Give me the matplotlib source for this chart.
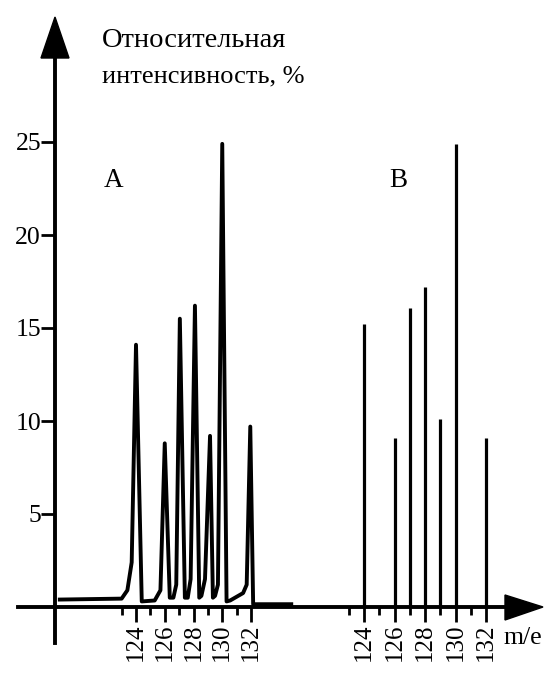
import matplotlib
matplotlib.use("Agg")
from matplotlib import pyplot as plt
from matplotlib.patches import Polygon
from matplotlib.ticker import FixedLocator


# spectre A (enregistrement continu) : sommets de la courbe (m/e, intensité %)
a_mz = [118.7, 123.0, 123.4, 123.7, 124.0, 124.4, 125.3, 125.7, 126.0,
        126.35, 126.6, 126.8, 127.05, 127.4, 127.6, 127.8, 128.1, 128.4,
        128.55, 128.8, 129.15, 129.35, 129.5, 129.7, 130.0, 130.3, 130.55,
        131.45, 131.7, 131.95, 132.15, 134.8]
a_int = [0.4, 0.45, 0.9, 2.4, 14.1, 0.3, 0.35, 0.9, 8.8,
         0.5, 0.5, 1.2, 15.5, 0.5, 0.5, 1.5, 16.2, 0.5,
         0.6, 1.5, 9.2, 0.5, 0.6, 1.2, 24.9, 0.3, 0.35,
         0.75, 1.2, 9.7, 0.15, 0.15]

# spectre B (raies)
b_mz = [124, 126, 127, 128, 129, 130, 132]
b_int = [15.2, 9.1, 16.1, 17.2, 10.1, 24.9, 9.1]

ticks_major = [124, 126, 128, 130, 132]
ticks_minor = [123, 125, 127, 129, 131]
y_ticks = [5, 10, 15, 20, 25]

W, H = 547, 673
Y0 = 607        # pixel (depuis le haut) de l'intensité 0
Y_PER = 18.6    # pixels par unité d'intensité
LW = 2.3
FONT = ['Liberation Serif', 'DejaVu Serif']

plt.rcParams['font.family'] = FONT


def fx(px):
    return px / W


def fy(py):
    return 1 - py / H


def ajouteAxes(fig, x124, x132):
    """Crée des axes transparents couvrant toute la figure, avec
        124 et 132 placés aux pixels x124 et x132.
    """
    scale = (x132 - x124) / 8
    left = 124 - x124 / scale
    ax = fig.add_axes([0, 0, 1, 1])
    ax.set_xlim(left, left + W / scale)
    ax.set_ylim(-(H - Y0) / Y_PER, Y0 / Y_PER)
    ax.patch.set_visible(False)
    for s in ['top', 'right', 'left']:
        ax.spines[s].set_visible(False)
    ax.spines['bottom'].set_position(('data', 0))
    ax.spines['bottom'].set_linewidth(LW + 0.5)
    ax.xaxis.set_major_locator(FixedLocator(ticks_major))
    ax.xaxis.set_minor_locator(FixedLocator(ticks_minor))
    ax.set_xticklabels([str(t) for t in ticks_major], rotation=90)
    ax.tick_params(axis='x', which='major', direction='out', length=11,
                   width=2.0, labelsize=18, pad=1)
    ax.tick_params(axis='x', which='minor', direction='out', length=6,
                   width=2.0)
    ax.set_yticks([])
    return ax, left, scale


fig = plt.figure(figsize=(W / 100, H / 100), dpi=100)

axA, leftA, scaleA = ajouteAxes(fig, 136, 251)
axB, leftB, scaleB = ajouteAxes(fig, 364, 486)

# axe vertical (sur les axes A)
axA.spines['left'].set_visible(True)
axA.spines['left'].set_position(('data', leftA + 55 / scaleA))
axA.spines['left'].set_linewidth(LW + 0.5)
axA.spines['left'].set_bounds((Y0 - 643) / Y_PER, (Y0 - 50) / Y_PER)
axA.set_yticks(y_ticks)
axA.set_yticklabels([str(t) for t in y_ticks])
axA.tick_params(axis='y', direction='out', length=10, width=2.0,
                labelsize=18.5, pad=0)
# axe horizontal continu jusqu'à la flèche
axA.spines['bottom'].set_bounds(leftA + 18 / scaleA, leftA + 510 / scaleA)
axB.spines['bottom'].set_visible(False)

# pointes de flèche
fig.patches.append(Polygon([(fx(55), fy(17)), (fx(41), fy(58)), (fx(69), fy(58))],
                           closed=True, color='black', transform=fig.transFigure))
fig.patches.append(Polygon([(fx(543), fy(607)), (fx(505), fy(595)), (fx(505), fy(620))],
                           closed=True, color='black', transform=fig.transFigure))

# les données
axA.plot(a_mz, a_int, color='black', lw=2.8, solid_joinstyle='round')
axB.vlines(b_mz, 0, b_int, color='black', lw=2.3)

# textes
fig.text(fx(102), fy(47), 'Относительная', fontsize=20.5, va='baseline')
fig.text(fx(102), fy(82), 'интенсивность, %', fontsize=19, va='baseline')
fig.text(fx(104), fy(187), 'A', fontsize=19.5, va='baseline')
fig.text(fx(389), fy(187), 'B', fontsize=19.5, va='baseline')
fig.text(fx(503), fy(644), 'm/e', fontsize=18.5, va='baseline')

fig.savefig('out.png', dpi=100)
